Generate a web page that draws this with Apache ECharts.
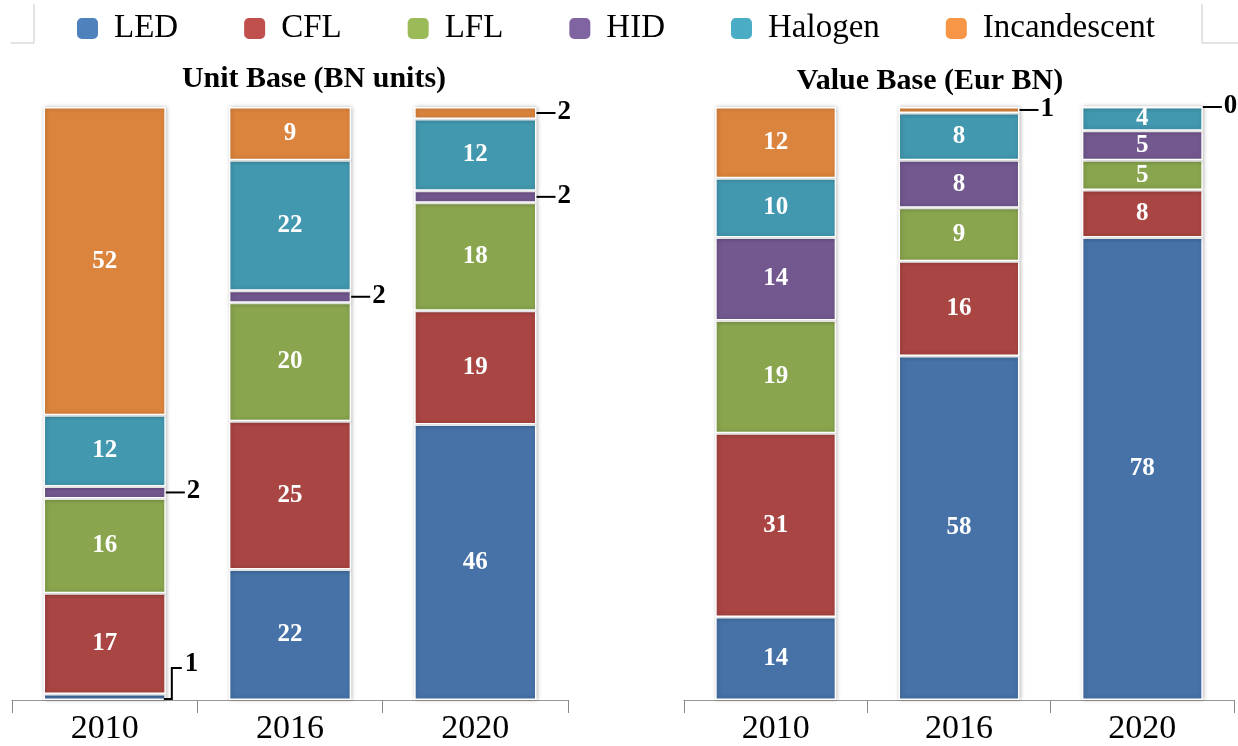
<!DOCTYPE html>
<html>
<head>
<meta charset="utf-8">
<script src="https://cdn.jsdelivr.net/npm/echarts@6/dist/echarts.min.js"></script>
<style>
  html, body { margin: 0; padding: 0; background: #fff; }
  #chart { width: 1238px; height: 746px; }
</style>
</head>
<body>
<div id="chart"></div>
<script>
// Lamp market split: units vs value, 2010 / 2016 / 2020
const years = ['2010', '2016', '2020'];
const lampTypes = ['LED', 'CFL', 'LFL', 'HID', 'Halogen', 'Incandescent'];

// Unit base (BN units)
const unitLED = [1, 22, 46];
const unitCFL = [17, 25, 19];
const unitLFL = [16, 20, 18];
const unitHID = [2, 2, 2];
const unitHalogen = [12, 22, 12];
const unitIncandescent = [52, 9, 2];

// Value base (Eur BN)
const valueLED = [14, 58, 78];
const valueCFL = [31, 16, 8];
const valueLFL = [19, 9, 5];
const valueHID = [14, 8, 5];
const valueHalogen = [10, 8, 4];
const valueIncandescent = [12, 1, 0];

const barColors = ['#4672A8', '#A94542', '#89A54E', '#72588F', '#4298AF', '#DB843D'];
const legendColors = ['#4F81BD', '#C0504D', '#9BBB59', '#8064A2', '#4BACC6', '#F79646'];
const serif = 'Liberation Serif';
const SMALL = 2;      // values this small get an outside label with a leader line
const BAR_SHARE = 0.66;

const unitSets = [unitLED, unitCFL, unitLFL, unitHID, unitHalogen, unitIncandescent];
const valueSets = [valueLED, valueCFL, valueLFL, valueHID, valueHalogen, valueIncandescent];

function totals(sets) {
    return years.map((y, i) => sets.reduce((s, arr) => s + arr[i], 0));
}

// stacked series, each bar scaled to 100
function buildSeries(sets, gridIdx) {
    const tot = totals(sets);
    return sets.map((arr, k) => ({
        name: lampTypes[k],
        type: 'bar',
        stack: 'g' + gridIdx,
        xAxisIndex: gridIdx,
        yAxisIndex: gridIdx,
        barWidth: (BAR_SHARE * 100) + '%',
        itemStyle: {
            color: barColors[k],
            borderColor: '#fff',
            borderWidth: 1.5,
            shadowColor: 'rgba(0,0,0,0.25)',
            shadowBlur: 4,
            shadowOffsetX: 1
        },
        label: {
            show: true,
            position: 'inside',
            color: '#fff',
            fontFamily: serif,
            fontWeight: 'bold',
            fontSize: 25,
            formatter: p => p.data.raw
        },
        data: arr.map((v, i) => {
            const item = { value: v / tot[i] * 100, raw: v };
            if (v <= SMALL) item.label = { show: false };
            return item;
        })
    }));
}

// leader-line labels for the thin segments
function buildLeaders(sets, gridIdx) {
    const tot = totals(sets);
    const items = [];
    years.forEach((y, i) => {
        let base = 0;
        sets.forEach((arr, k) => {
            const share = arr[i] / tot[i] * 100;
            if (arr[i] <= SMALL) {
                items.push([i, base + share / 2, arr[i], k === 0 ? 1 : 0, base]);
            }
            base += share;
        });
    });
    return {
        type: 'custom',
        xAxisIndex: gridIdx,
        yAxisIndex: gridIdx,
        silent: true,
        z: 10,
        data: items,
        renderItem: function (params, api) {
            const half = api.size([1, 0])[0] * BAR_SHARE / 2;
            const mid = api.coord([api.value(0), api.value(1)]);
            const xEdge = mid[0] + half;
            const font = 'bold 27px "' + serif + '"';
            if (api.value(3) === 1) {
                const yb = api.coord([api.value(0), api.value(4)])[1] - 1;
                return {
                    type: 'group',
                    children: [
                        { type: 'polyline', shape: { points: [[xEdge - 2, yb], [xEdge + 6, yb], [xEdge + 6, yb - 31], [xEdge + 16, yb - 31]] },
                          style: { stroke: '#000', lineWidth: 2, fill: null } },
                        { type: 'text', style: { text: String(api.value(2)), x: xEdge + 19, y: yb - 35, font: font,
                          fill: '#000', align: 'left', verticalAlign: 'middle' } }
                    ]
                };
            }
            return {
                type: 'group',
                children: [
                    { type: 'line', shape: { x1: xEdge, y1: mid[1], x2: xEdge + 19, y2: mid[1] },
                      style: { stroke: '#000', lineWidth: 2 } },
                    { type: 'text', style: { text: String(api.value(2)), x: xEdge + 21, y: mid[1] - 1, font: font,
                      fill: '#000', align: 'left', verticalAlign: 'middle' } }
                ]
            };
        }
    };
}

const chart = echarts.init(document.getElementById('chart'));

const axisCommon = {
    type: 'category',
    data: years,
    axisLine: { lineStyle: { color: '#999', width: 1 } },
    axisTick: { show: true, length: 13, lineStyle: { color: '#888' } },
    axisLabel: { color: '#000', fontFamily: serif, fontSize: 34, margin: 12 }
};

const option = {
    animation: false,
    title: [
        {
            text: 'Unit Base (BN units)',
            left: 309, top: 59, textAlign: 'center',
            textStyle: { fontFamily: serif, fontWeight: 'bold', fontSize: 30, color: '#000' }
        },
        {
            text: 'Value Base (Eur BN)',
            left: 925, top: 61, textAlign: 'center',
            textStyle: { fontFamily: serif, fontWeight: 'bold', fontSize: 30, color: '#000' }
        }
    ],
    legend: {
        top: 7,
        left: 70,
        icon: 'roundRect',
        itemWidth: 23,
        itemHeight: 23,
        itemGap: 64,
        textStyle: { fontFamily: serif, fontSize: 33, color: '#000', padding: [0, 0, 0, 10] },
        data: lampTypes.map((n, k) => ({ name: n, itemStyle: { color: legendColors[k] } }))
    },
    grid: [
        { left: 12, right: 670, top: 107, bottom: 46 },
        { left: 684, right: 4, top: 107, bottom: 46 }
    ],
    xAxis: [
        Object.assign({ gridIndex: 0 }, axisCommon),
        Object.assign({ gridIndex: 1 }, axisCommon)
    ],
    yAxis: [
        { type: 'value', gridIndex: 0, min: 0, max: 100, show: false },
        { type: 'value', gridIndex: 1, min: 0, max: 100, show: false }
    ],
    graphic: [
        { type: 'polyline', shape: { points: [[34, 4], [34, 43], [11, 43]] }, style: { stroke: '#c8c8c8', lineWidth: 1, fill: null } },
        { type: 'polyline', shape: { points: [[1202, 4], [1202, 43], [1238, 43]] }, style: { stroke: '#c8c8c8', lineWidth: 1, fill: null } }
    ],
    series: buildSeries(unitSets, 0)
        .concat(buildSeries(valueSets, 1))
        .concat([buildLeaders(unitSets, 0), buildLeaders(valueSets, 1)])
};

chart.setOption(option);
</script>
</body>
</html>
